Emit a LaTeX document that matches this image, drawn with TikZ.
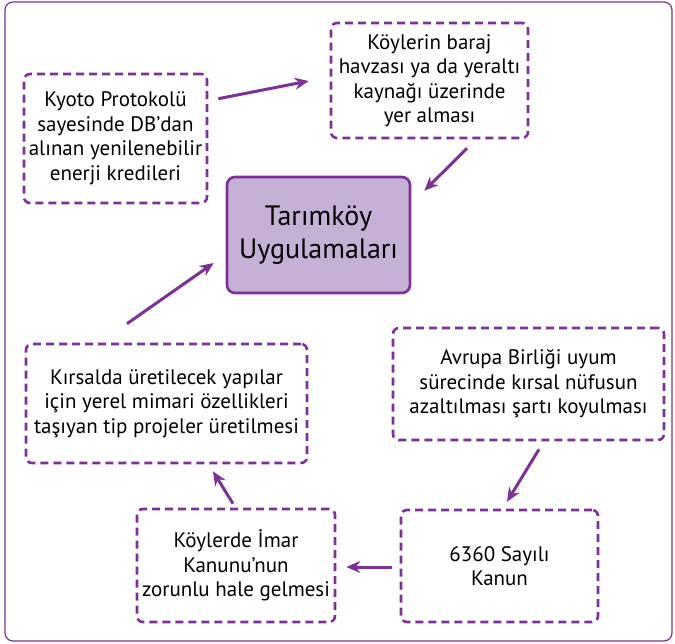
\documentclass[tikz,border=0pt]{standalone}
\usepackage{fontspec}
\setmainfont{PT Sans}
\usetikzlibrary{arrows.meta,calc}
\definecolor{purp}{HTML}{7B3294}
\definecolor{lav}{HTML}{C6B1D6}
\begin{document}
\begin{tikzpicture}[x=1pt,y=-1pt,
  dbox/.style={draw=purp,line width=2.6pt,dash pattern=on 8pt off 5pt,rounded corners=6pt,
    inner sep=0pt,align=center,font=\fontsize{21}{24.5}\selectfont},
  cbox/.style={draw=purp,fill=lav,line width=2.6pt,rounded corners=8pt,inner sep=0pt,
    align=center,font=\fontsize{28}{33}\selectfont,minimum width=183pt,minimum height=116pt},
  arr/.style={draw=purp,line width=3pt,-{Stealth[length=14pt,width=12pt]}}]
\useasboundingbox (0,0) rectangle (675,643);
\draw[purp,line width=1.2pt,rounded corners=8pt] (5,2) rectangle (672,641);
\node[dbox,minimum width=183pt,minimum height=129pt] (kyoto) at (115.5,138.5)
  {Kyoto Protokolü\\sayesinde DB’dan\\alınan yenilenebilir\\enerji kredileri};
\node[dbox,minimum width=197pt,minimum height=115pt] (koy) at (429.5,80.5)
  {Köylerin baraj\\havzası ya da yeraltı\\kaynağı üzerinde\\yer alması};
\node[cbox] (tk) at (318.5,235) {Tarımköy\\Uygulamaları};
\node[dbox,minimum width=281pt,minimum height=119pt] (kir) at (166.5,403.5)
  {Kırsalda üretilecek yapılar\\için yerel mimari özellikleri\\taşıyan tip projeler üretilmesi};
\node[dbox,minimum width=198pt,minimum height=113pt] (imar) at (236,565.5)
  {Köylerde İmar\\Kanunu’nun\\zorunlu hale gelmesi};
\node[dbox,minimum width=271pt,minimum height=112pt] (ab) at (528.5,384)
  {Avrupa Birliği uyum\\sürecinde kırsal nüfusun\\azaltılması şartı koyulması};
\node[dbox,minimum width=197pt,minimum height=112pt] (kanun) at (499.5,566)
  {6360 Sayılı\\Kanun};
\draw[arr] ($(kyoto.north east)+(10,26)$) -- ($(koy.west)+(-21,0.5)$);
\draw[arr] ($(koy.south)+(37.5,9)$) -- ($(tk.north east)+(13,15)$);
\draw[arr] ($(kir.north)+(-39.5,-19)$) -- ($(tk.west)+(-12,28)$);
\draw[arr] ($(ab.south)+(10.5,8)$) -- ($(kanun.north)+(7.5,-7)$);
\draw[arr] ($(kanun.west)+(-8,1)$) -- ($(imar.east)+(10,1.5)$);
\draw[arr] ($(imar.north)+(-3,-4)$) -- ($(kir.south)+(46.5,7)$);
\end{tikzpicture}
\end{document}
